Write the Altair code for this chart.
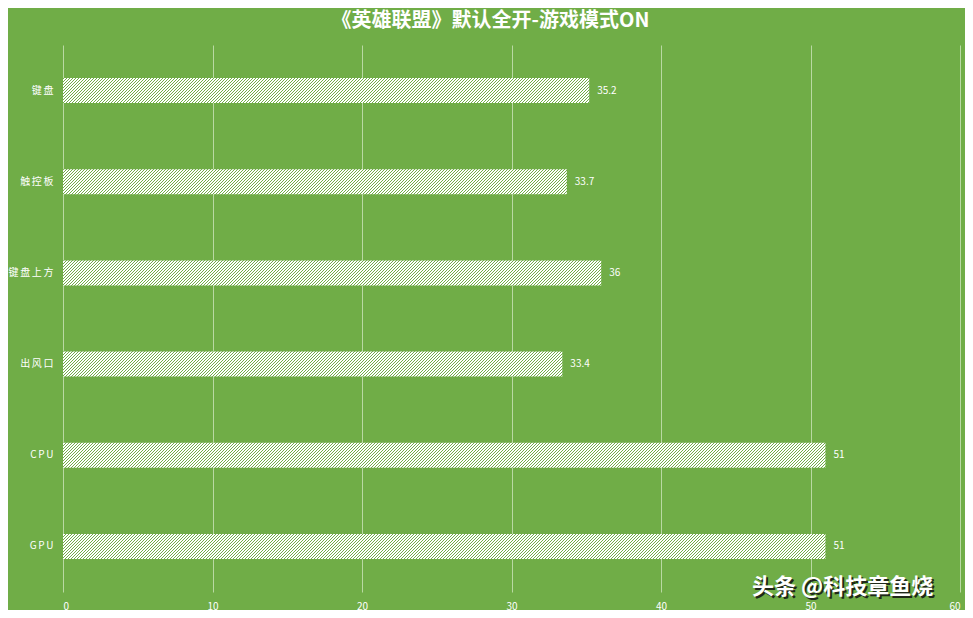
import math
import altair as alt
import pandas as pd

categories = ["键盘", "触控板", "键盘上方", "出风口", "CPU", "GPU"]
values = [35.2, 33.7, 36, 33.4, 51, 51]
x_ticks = [0, 10, 20, 30, 40, 50, 60]
title_text = "《英雄联盟》默认全开-游戏模式ON"
watermark = "头条 @科技章鱼烧"

labels = [f"{v:g}" for v in values]
df = pd.DataFrame({"cat": categories, "val": values, "label": labels})

W, H = 897, 547
BAR = 25
XMAX = 60
BG = "#70AD47"
FONT = "Noto Sans CJK SC"

step = H / len(categories)
p_inner = 1 - BAR / step
p_outer = p_inner / 2


def hatch(value, period=3.0, line=1.0):
    # diagonal "/" stripes with an exact pixel period, as a bounding-box gradient
    w = value * W / XMAX
    h = BAR
    span = w + h
    n = int(math.ceil(span / period))
    k = period * n / (w * w + h * h)
    stops = []
    for i in range(n):
        a = round(i / n, 7)
        b = round((i + line / period) / n, 7)
        c = round((i + 1) / n, 7)
        stops += [
            alt.GradientStop(offset=a, color=BG),
            alt.GradientStop(offset=b, color=BG),
            alt.GradientStop(offset=b, color="#ffffff"),
            alt.GradientStop(offset=c, color="#ffffff"),
        ]
    return alt.LinearGradient(
        gradient="linear", stops=stops, x1=0, y1=0, x2=round(w * k, 7), y2=round(h * k, 7)
    )


x_enc = alt.X(
    "val:Q",
    scale=alt.Scale(domain=[0, XMAX], nice=False),
    axis=alt.Axis(
        values=x_ticks,
        title=None,
        grid=True,
        gridColor="#b9d9a3",
        gridWidth=1,
        domain=False,
        ticks=False,
        labelColor="#ffffff",
        labelFontSize=10,
        labelFont=FONT,
        labelPadding=9,
    ),
)
y_enc = alt.Y(
    "cat:N",
    sort=categories,
    scale=alt.Scale(domain=categories, paddingInner=p_inner, paddingOuter=p_outer),
    axis=alt.Axis(
        title=None,
        domain=False,
        ticks=False,
        grid=False,
        labelColor="#ffffff",
        labelFontSize=10,
        labelFont=FONT,
        labelPadding=10,
        labelExpr="join(split(datum.label, ''), '\u2006')",
    ),
)

bar_layers = []
for c, v in zip(categories, values):
    bar_layers.append(
        alt.Chart(df)
        .transform_filter(alt.datum.cat == c)
        .mark_bar(color=hatch(v))
        .encode(x=x_enc, y=y_enc)
    )

text_layer = (
    alt.Chart(df)
    .mark_text(align="left", baseline="middle", dx=8, color="#ffffff", fontSize=10, font=FONT)
    .encode(x=x_enc, y=y_enc, text="label:N")
)

wm_df = pd.DataFrame({"t": [watermark]})
wm_shadow = (
    alt.Chart(wm_df)
    .mark_text(align="left", baseline="alphabetic", fontSize=22, fontWeight="bold",
               font=FONT, color="#111111", opacity=0.85)
    .encode(x=alt.value(691), y=alt.value(551), text="t:N")
)
wm_text = (
    alt.Chart(wm_df)
    .mark_text(align="left", baseline="alphabetic", fontSize=22, fontWeight="bold",
               font=FONT, color="#ffffff")
    .encode(x=alt.value(689), y=alt.value(549), text="t:N")
)

chart = (
    alt.layer(*bar_layers, text_layer, wm_shadow, wm_text)
    .properties(
        width=W,
        height=H,
        background=BG,
        autosize=alt.AutoSizeParams(type="none"),
        padding={"left": 55, "top": 37, "right": 5, "bottom": 18},
        title=alt.TitleParams(
            text=title_text,
            fontSize=20,
            fontWeight="bold",
            font=FONT,
            color="#ffffff",
            anchor="middle",
            dx=-21,
            offset=14,
        ),
    )
    .configure_view(strokeOpacity=0)
)

chart.save("out.html", embed_options={"renderer": "svg", "actions": False})
